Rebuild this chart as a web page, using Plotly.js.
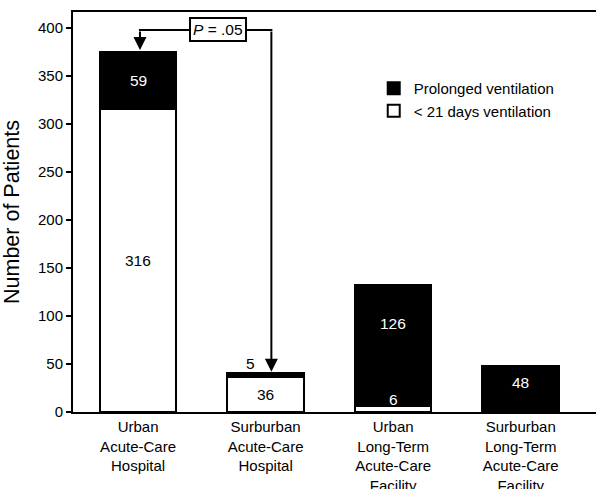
<!DOCTYPE html>
<html>
<head>
<meta charset="utf-8">
<script src="https://cdn.plot.ly/plotly-3.0.1.min.js"></script>
<style>html,body{margin:0;padding:0;background:#fff;}#chart{width:596px;height:489px;}</style>
</head>
<body>
<div id="chart"></div>
<script>
// Data
const categories = [
  "Urban<br>Acute-Care<br>Hospital",
  "Surburban<br>Acute-Care<br>Hospital",
  "Urban<br>Long-Term<br>Acute-Care<br>Facility",
  "Surburban<br>Long-Term<br>Acute-Care<br>Facility"
];
const shortVent = [316, 36, 6, 0];       // < 21 days ventilation
const prolongedVent = [59, 5, 126, 48];  // Prolonged ventilation
const yTicks = [0, 50, 100, 150, 200, 250, 300, 350, 400];
const pValueText = "<i>P</i> = .05";

const xIdx = categories.map((_, i) => i);
const FONT = "Liberation Sans, Arial, sans-serif";

const traces = [
  {
    type: "bar", x: xIdx, y: shortVent, name: "< 21 days ventilation",
    width: 0.6,
    marker: {color: "#ffffff", line: {color: "#000000", width: 2}},
    hoverinfo: "skip"
  },
  {
    type: "bar", x: xIdx, y: prolongedVent, name: "Prolonged ventilation",
    width: 0.6,
    marker: {color: "#000000", line: {color: "#000000", width: 2}},
    hoverinfo: "skip"
  }
];

// value label annotations
const labelSpecs = [
  {x: 0, y: shortVent[0] / 2, t: shortVent[0], c: "#000"},
  {x: 0, y: shortVent[0] + prolongedVent[0] / 2, t: prolongedVent[0], c: "#fff"},
  {x: 1, y: shortVent[1] / 2, t: shortVent[1], c: "#000"},
  {x: 0.88, y: shortVent[1] + prolongedVent[1] + 10, t: prolongedVent[1], c: "#000"},
  {x: 2, y: 13, t: shortVent[2], c: "#fff"},
  {x: 2, y: 92, t: prolongedVent[2], c: "#fff"},
  {x: 3, y: 31, t: prolongedVent[3], c: "#fff"}
];
const annotations = labelSpecs.map(s => ({
  x: s.x, y: s.y, xref: "x", yref: "y", text: String(s.t), showarrow: false,
  font: {family: FONT, size: 15.5, color: s.c}
}));

const bracketY = 398;
const leftX = 0.015, rightX = 1.045;
// arrows
annotations.push({
  x: leftX, y: shortVent[0] + prolongedVent[0] + 2, ax: leftX, ay: bracketY,
  xref: "x", yref: "y", axref: "x", ayref: "y", showarrow: true,
  arrowhead: 2, arrowsize: 1.3, arrowwidth: 2, arrowcolor: "#000", text: ""
});
annotations.push({
  x: rightX, y: shortVent[1] + prolongedVent[1] + 1, ax: rightX, ay: bracketY,
  xref: "x", yref: "y", axref: "x", ayref: "y", showarrow: true,
  arrowhead: 2, arrowsize: 1.3, arrowwidth: 2, arrowcolor: "#000", text: ""
});
// P box
annotations.push({
  x: 0.63, y: bracketY, xref: "x", yref: "y", text: pValueText, showarrow: false,
  font: {family: FONT, size: 15.5, color: "#000"},
  bgcolor: "#fff", bordercolor: "#000", borderwidth: 2, borderpad: 2
});

const shapes = [
  {type: "line", xref: "x", yref: "y", x0: leftX - 0.008, x1: rightX + 0.008, y0: bracketY, y1: bracketY,
   line: {color: "#000", width: 2}, layer: "below"}
];

const layout = {
  width: 596, height: 489,
  margin: {l: 73, r: 0, t: 12, b: 77},
  paper_bgcolor: "#fff", plot_bgcolor: "#fff",
  barmode: "stack",
  showlegend: true,
  legend: {
    x: 0.575, y: 0.85, xanchor: "left", yanchor: "top",
    traceorder: "reversed",
    font: {family: FONT, size: 15, color: "#000"},
    bgcolor: "rgba(0,0,0,0)", itemwidth: 30, tracegroupgap: 0
  },
  xaxis: {
    range: [-0.51, 3.59],
    tickmode: "array", tickvals: xIdx, ticktext: categories,
    tickfont: {family: FONT, size: 15, color: "#000"},
    showline: true, linecolor: "#000", linewidth: 2, mirror: true,
    ticks: "", showgrid: false, zeroline: false, fixedrange: true
  },
  yaxis: {
    range: [0, 416.7],
    tickmode: "array", tickvals: yTicks,
    tickfont: {family: FONT, size: 15, color: "#000"},
    showline: true, linecolor: "#000", linewidth: 2,
    ticks: "outside", ticklen: 5, tickwidth: 2, tickcolor: "#000",
    showgrid: false, zeroline: false, fixedrange: true,
    title: {text: "Number of Patients", font: {family: FONT, size: 21.5, color: "#000"}, standoff: 14}
  },
  annotations: annotations,
  shapes: shapes
};

Plotly.newPlot("chart", traces, layout, {displayModeBar: false, staticPlot: true});
</script>
</body>
</html>
